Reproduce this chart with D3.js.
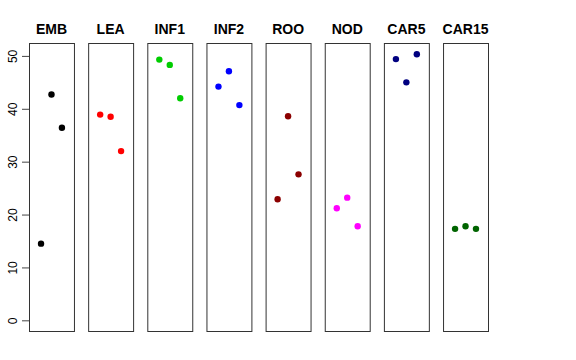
<!DOCTYPE html>
<html>
<head>
<meta charset="utf-8">
<script src="https://cdn.jsdelivr.net/npm/d3@7"></script>
<style>
  body { margin: 0; background: #fff; }
  text { font-family: "Liberation Sans", Arial, sans-serif; }
</style>
</head>
<body>
<div class="canvas"></div>
<script>
// data: one group per panel, three replicate values each
const groups = ["EMB", "LEA", "INF1", "INF2", "ROO", "NOD", "CAR5", "CAR15"];
const colors = ["#000000", "#FF0000", "#00CD00", "#0000FF", "#8B0000", "#FF00FF", "#000080", "#006400"];
const rep1 = [14.5, 38.9, 49.3, 44.2, 22.9, 21.2, 49.4, 17.3];
const rep2 = [42.7, 38.5, 48.3, 47.1, 38.6, 23.2, 45.0, 17.8];
const rep3 = [36.4, 32.0, 42.0, 40.7, 27.6, 17.8, 50.3, 17.3];
const yTicks = [0, 10, 20, 30, 40, 50];

const width = 576, height = 360;

const svg = d3.select(".canvas")
  .append("svg")
    .attr("width", width)
    .attr("height", height);

// panels placed side by side
const panel = d3.scaleBand()
    .domain(groups)
    .range([29, 488])
    .paddingInner(0.24);

const y = d3.scaleLinear()
    .domain([-2.02, 52.44])
    .range([331, 43]);

// position of each replicate inside a panel
const x = d3.scaleLinear()
    .domain([-0.15, 4.15])
    .range([0, panel.bandwidth()]);

// shared y axis on the left of the first panel
const yAxis = svg.append("g")
    .attr("transform", `translate(${panel(groups[0])},0)`)
    .call(d3.axisLeft(y).tickValues(yTicks).tickSize(7).tickPadding(4));
yAxis.select(".domain").remove();
yAxis.selectAll("line").style("stroke", "#444");
yAxis.selectAll("text")
    .attr("transform", "rotate(-90)")
    .attr("text-anchor", "middle")
    .attr("x", 0)
    .attr("y", -16)
    .attr("dy", "0.35em")
    .style("font-size", "12px")
    .style("font-family", "Liberation Sans, Arial, sans-serif");

const data = groups.map((g, i) => ({
  group: g,
  color: colors[i],
  values: [rep1[i], rep2[i], rep3[i]]
}));

const panels = svg.selectAll("g.panel")
    .data(data)
    .join("g")
      .attr("class", "panel")
      .attr("transform", d => `translate(${panel(d.group)},0)`);

panels.append("rect")
    .attr("x", 0.5)
    .attr("y", y.range()[1] + 0.5)
    .attr("width", panel.bandwidth())
    .attr("height", y.range()[0] - y.range()[1])
    .style("fill", "none")
    .style("stroke", "#333")
    .style("stroke-width", 1);

panels.append("text")
    .attr("x", panel.bandwidth() / 2)
    .attr("y", 34)
    .attr("text-anchor", "middle")
    .style("font-size", "14px")
    .style("font-weight", "bold")
    .text(d => d.group);

panels.selectAll("circle")
    .data(d => d.values.map((v, j) => ({v: v, j: j + 1, color: d.color})))
    .join("circle")
      .attr("cx", d => x(d.j))
      .attr("cy", d => y(d.v))
      .attr("r", 3.2)
      .style("fill", d => d.color);
</script>
</body>
</html>
